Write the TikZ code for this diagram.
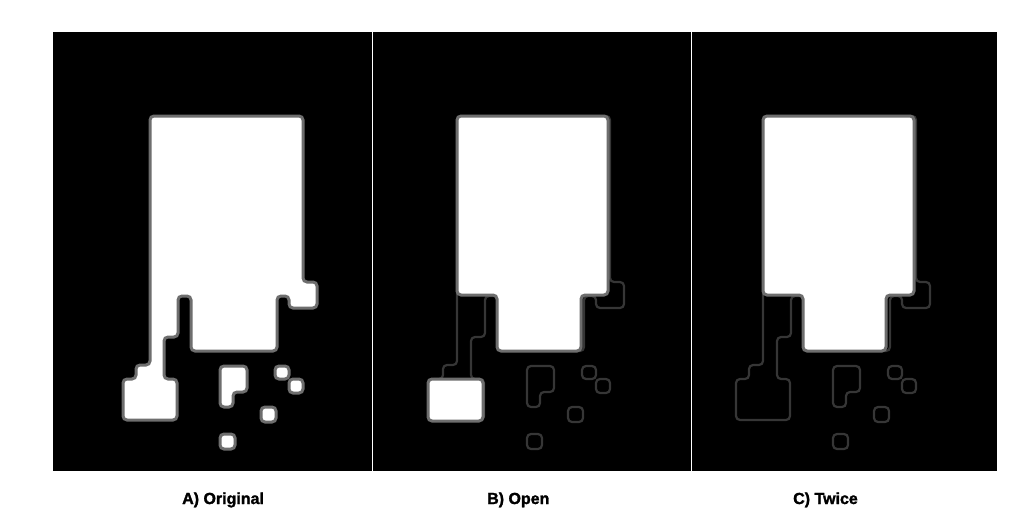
\documentclass[tikz,border=0pt]{standalone}
\usepackage{fontspec}
\setmainfont{Liberation Sans}
\newfontfamily\capfont[FakeBold=1.6]{Liberation Sans Bold}
\definecolor{edgegray}{HTML}{6E6E6E}
\definecolor{ghostgray}{HTML}{363636}
\newcommand\mainshapepath{(150,116) -- (303,116) -- (303,282) -- (317,282) -- (317,308) -- (289,308) -- (289,296) -- (277,296) -- (277,351) -- (191,351) -- (191,296) -- (178,296) -- (178,337) -- (164,337) -- (164,379) -- (177,379) -- (177,420) -- (123,420) -- (123,379) -- (136,379) -- (136,365) -- (150,365) -- cycle}
\newcommand\lshapepath{(220,366) -- (247,366) -- (247,392) -- (233,392) -- (233,407) -- (220,407) -- cycle}
\newcommand\smallbits[1]{%
  \draw[#1] \lshapepath;
  \draw[#1] (275,366) rectangle (289,379);
  \draw[#1] (289,379) rectangle (303,393);
  \draw[#1] (261,407) rectangle (276,422);
  \draw[#1] (220,434) rectangle (235,449);
}
\tikzset{
  solidshape/.style={draw=edgegray, line width=3pt, fill=white, rounded corners=4pt},
  ghostshape/.style={draw=ghostgray, line width=2.2pt, rounded corners=4pt},
  panelbg/.style={fill=black, draw=none},
  caption/.style={anchor=base west, font=\capfont\fontsize{16}{18}\selectfont, inner sep=0pt}
}
\begin{document}
\begin{tikzpicture}[x=1pt, y=-1pt]
\useasboundingbox (0,0) rectangle (1030,519);
\fill[white] (0,0) rectangle (1030,519);
% panels
\fill[panelbg] (53,32) rectangle (371.5,471);
\fill[panelbg] (372.5,32) rectangle (690.5,471);
\fill[panelbg] (691.5,32) rectangle (997,471);
% A) Original
\draw[solidshape] \mainshapepath;
\smallbits{solidshape}
% B) Open
\begin{scope}[xshift=307]
  \draw[ghostshape] \mainshapepath;
  \smallbits{ghostshape}
\end{scope}
\draw[solidshape] (457,116) -- (608,116) -- (608,295) -- (581,295) -- (581,351) -- (497,351) -- (497,295) -- (457,295) -- cycle;
\draw[solidshape] (428,379) rectangle (483,421);
% C) Twice
\begin{scope}[xshift=613]
  \draw[ghostshape] \mainshapepath;
  \smallbits{ghostshape}
\end{scope}
\draw[solidshape] (763,116) -- (914,116) -- (914,295) -- (886,295) -- (886,351) -- (803,351) -- (803,295) -- (763,295) -- cycle;
% captions
\node[caption] (capA) at (182,504) {A) Original};
\node[caption] (capB) at (487,504) {B) Open};
\node[caption] (capC) at (793,504) {C) Twice};
\end{tikzpicture}
\end{document}
